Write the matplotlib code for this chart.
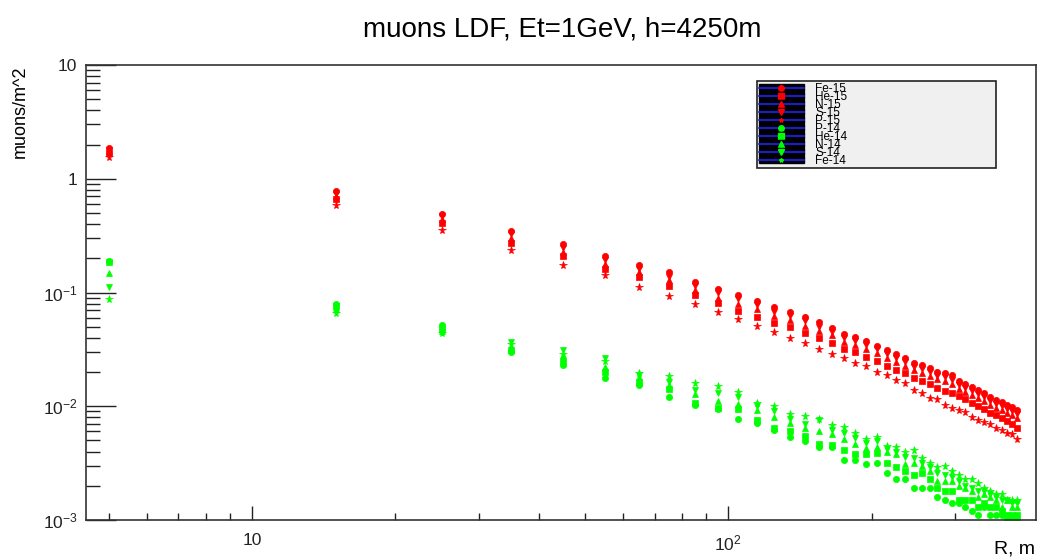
"""Muon LDF at h=4250m, recreated in ROOT style."""

import matplotlib
matplotlib.use('Agg')
import matplotlib.pyplot as plt
from matplotlib.lines import Line2D
from matplotlib.patches import Patch
from matplotlib.ticker import LogLocator, NullFormatter

plt.rcParams['font.family'] = ['Liberation Sans', 'DejaVu Sans']
plt.rcParams['mathtext.default'] = 'regular'

# distance from shower core, m
r = [5, 15, 25, 35, 45, 55, 65, 75, 85, 95,
     105, 115, 125, 135, 145, 155, 165, 175, 185, 195,
     205, 215, 225, 235, 245, 255, 265, 275, 285, 295,
     305, 315, 325, 335, 345, 355, 365, 375, 385, 395, 405]

# muon density, muons/m^2 (set 15)
fe15 = [1.85, 0.78, 0.49, 0.345, 0.268, 0.208, 0.175, 0.150, 0.124, 0.107,
        0.096, 0.084, 0.074, 0.067, 0.061, 0.055, 0.049, 0.0435, 0.041, 0.0375,
        0.0342, 0.031, 0.0288, 0.0268, 0.0242, 0.0231, 0.0217, 0.0202, 0.0196, 0.0187,
        0.0167, 0.0157, 0.0147, 0.0139, 0.0131, 0.0120, 0.0114, 0.0110, 0.0103, 0.0099, 0.0093]
he15 = [1.68, 0.67, 0.41, 0.275, 0.208, 0.160, 0.138, 0.114, 0.095, 0.081,
        0.069, 0.061, 0.054, 0.050, 0.044, 0.040, 0.036, 0.0316, 0.0298, 0.0272,
        0.0250, 0.0226, 0.0210, 0.0195, 0.0178, 0.0168, 0.0158, 0.0146, 0.0136, 0.0130,
        0.0122, 0.0115, 0.0106, 0.0101, 0.0095, 0.0088, 0.0083, 0.0079, 0.0074, 0.0070, 0.0064]
n15 = [1.75, 0.70, 0.44, 0.30, 0.228, 0.178, 0.150, 0.128, 0.106, 0.090,
       0.080, 0.071, 0.062, 0.057, 0.051, 0.046, 0.042, 0.0368, 0.0345, 0.0318,
       0.0292, 0.0265, 0.0246, 0.0228, 0.0207, 0.0197, 0.0185, 0.0172, 0.0166, 0.0156,
       0.0143, 0.0134, 0.0125, 0.0119, 0.0111, 0.0103, 0.0097, 0.0093, 0.0088, 0.0084, 0.0079]
s15 = [1.80, 0.74, 0.47, 0.325, 0.248, 0.193, 0.162, 0.138, 0.115, 0.099,
       0.088, 0.077, 0.068, 0.062, 0.056, 0.050, 0.045, 0.0400, 0.0376, 0.0345,
       0.0316, 0.0286, 0.0266, 0.0247, 0.0223, 0.0213, 0.0200, 0.0186, 0.0180, 0.0171,
       0.0154, 0.0145, 0.0136, 0.0128, 0.0121, 0.0111, 0.0105, 0.0101, 0.0095, 0.0091, 0.0086]
p15 = [1.55, 0.59, 0.355, 0.238, 0.176, 0.143, 0.112, 0.093, 0.079, 0.068,
       0.058, 0.051, 0.045, 0.040, 0.036, 0.032, 0.029, 0.0263, 0.024, 0.0225,
       0.0201, 0.019, 0.017, 0.0161, 0.0138, 0.013, 0.0119, 0.0115, 0.0102, 0.0097,
       0.0093, 0.0089, 0.0080, 0.0076, 0.0073, 0.0070, 0.0064, 0.0062, 0.0058, 0.0057, 0.0052]

# muon density, muons/m^2 (set 14)
p14 = [0.19, 0.080, 0.052, 0.030, 0.023, 0.0177, 0.0153, 0.0121, 0.0102, 0.0094,
       0.0078, 0.0071, 0.0062, 0.0054, 0.0049, 0.0044, 0.0044, 0.0034, 0.0034, 0.0031,
       0.0032, 0.0026, 0.0023, 0.0023, 0.0019, 0.0019, 0.0019, 0.0016, 0.0015, 0.0014,
       0.0014, 0.0013, 0.0012, 0.0011, 0.0013, 0.0011, 0.0011, 0.0011, 0.0010, 0.0010, 0.0010]
he14 = [0.185, 0.076, 0.048, 0.031, 0.025, 0.020, 0.0165, 0.0141, 0.0107, 0.0097,
        0.0095, 0.0076, 0.0064, 0.0060, 0.0055, 0.0047, 0.0046, 0.0041, 0.0038, 0.0038,
        0.0039, 0.0032, 0.0029, 0.0027, 0.0025, 0.0026, 0.0023, 0.0019, 0.0018, 0.0018,
        0.0015, 0.0015, 0.0015, 0.0013, 0.0014, 0.0013, 0.0013, 0.0012, 0.0011, 0.0011, 0.0011]
n14 = [0.149, 0.072, 0.046, 0.033, 0.028, 0.022, 0.018, 0.0155, 0.0128, 0.0112,
       0.0105, 0.0092, 0.0081, 0.0071, 0.0065, 0.0061, 0.0057, 0.0052, 0.0047, 0.0043,
       0.0044, 0.0040, 0.0038, 0.0031, 0.0032, 0.0030, 0.0027, 0.0022, 0.0022, 0.0022,
       0.0020, 0.0019, 0.0018, 0.0016, 0.0017, 0.0016, 0.0015, 0.0013, 0.0015, 0.0013, 0.0013]
s14 = [0.112, 0.068, 0.045, 0.037, 0.031, 0.0265, 0.019, 0.0165, 0.0138, 0.0131,
       0.0120, 0.0100, 0.0090, 0.0078, 0.0070, 0.0075, 0.0062, 0.0058, 0.0053, 0.0048,
       0.0049, 0.0042, 0.0040, 0.0036, 0.0035, 0.0032, 0.0029, 0.0026, 0.0025, 0.0024,
       0.0022, 0.0020, 0.0019, 0.0018, 0.0018, 0.0017, 0.0016, 0.0015, 0.0015, 0.0014, 0.0014]
fe14 = [0.087, 0.066, 0.044, 0.035, 0.029, 0.025, 0.0195, 0.0184, 0.0159, 0.0150,
        0.0134, 0.0107, 0.0100, 0.0085, 0.0082, 0.0077, 0.0068, 0.0066, 0.0058, 0.0052,
        0.0054, 0.0045, 0.0044, 0.0040, 0.0041, 0.0035, 0.0032, 0.0029, 0.0030, 0.0027,
        0.0025, 0.0023, 0.0023, 0.0021, 0.0019, 0.0018, 0.0017, 0.0017, 0.0015, 0.0015, 0.0015]

labels = ['Fe-15', 'He-15', 'N-15', 'S-15', 'P-15',
          'P-14', 'He-14', 'N-14', 'S-14', 'Fe-14']
series = [fe15, he15, n15, s15, p15, p14, he14, n14, s14, fe14]
markers = ['o', 's', '^', 'v', '*', 'o', 's', '^', 'v', '*']
colors = ['#ff0000'] * 5 + ['#00ff00'] * 5

W, H = 1043, 559
fig = plt.figure(figsize=(W / 100, H / 100), dpi=100)
ax_l, ax_r, ax_t, ax_b = 85.7, 1036, 65, 520
ax = fig.add_axes([ax_l / W, 1 - ax_b / H, (ax_r - ax_l) / W, (ax_b - ax_t) / H])

for y, m, c in zip(series, markers, colors):
    ms = 5.8 if m == '*' else 4.5
    ax.plot(r, y, linestyle='none', marker=m, ms=ms, color=c, mec=c, mew=0.5)

ax.set_xscale('log')
ax.set_yscale('log')
ax.set_xlim(4.47, 443)
ax.set_ylim(1e-3, 10)

ax.set_xticks([10, 100])
ax.set_xticklabels(['10', '$10^{2}$'])
ax.xaxis.set_minor_locator(LogLocator(base=10, subs=range(2, 10)))
ax.xaxis.set_minor_formatter(NullFormatter())
ax.set_yticks([1e-3, 1e-2, 1e-1, 1, 10])
ax.set_yticklabels(['$10^{-3}$', '$10^{-2}$', '$10^{-1}$', '1', '10'])
ax.yaxis.set_minor_locator(LogLocator(base=10, subs=range(2, 10)))
ax.yaxis.set_minor_formatter(NullFormatter())

ax.tick_params(axis='both', which='both', direction='in', top=False, right=False,
               colors='#222222', labelsize=12.5)
ax.tick_params(axis='y', which='major', length=21.5, width=1.0, pad=6)
ax.tick_params(axis='y', which='minor', length=10, width=1.0)
ax.tick_params(axis='x', which='major', length=10, width=1.0, pad=9.5)
ax.tick_params(axis='x', which='minor', length=5, width=1.0)
for s in ax.spines.values():
    s.set_color('#333333')
    s.set_linewidth(1.2)

fig.text(562 / W, 1 - 29 / H, 'muons LDF, Et=1GeV, h=4250m', ha='center', va='center',
         fontsize=20)
fig.text(20 / W, 1 - 65 / H, 'muons/m^2', rotation=90, ha='center', va='top',
         fontsize=13)
fig.text(1035 / W, 1 - 549 / H, 'R, m', ha='right', va='center', fontsize=14)

# legend box in axes fraction, from its pixel corners
lx0, lx1, ly0, ly1 = 757, 996, 81, 167
bbox = ((lx0 - ax_l) / (ax_r - ax_l), (ax_b - ly1) / (ax_b - ax_t),
        (lx1 - lx0) / (ax_r - ax_l), (ly1 - ly0) / (ax_b - ax_t))

handles = [(Patch(facecolor='black', edgecolor='black'),
            Line2D([], [], color='#2020ff', lw=1.2, marker=m, ms=4 if m != '*' else 3,
                   mfc=c, mec=c))
           for m, c in zip(markers, colors)]
leg = ax.legend(handles, labels, loc='upper left', bbox_to_anchor=bbox,
                mode='expand', fontsize=8.5, handlelength=3.8, handleheight=0.55,
                labelspacing=-0.34, handletextpad=1.0, borderpad=0.15, borderaxespad=0,
                fancybox=False, framealpha=1, facecolor='#f0f0f0', edgecolor='#222222')
leg.get_frame().set_linewidth(1.2)

fig.savefig('out.png', dpi=100)
